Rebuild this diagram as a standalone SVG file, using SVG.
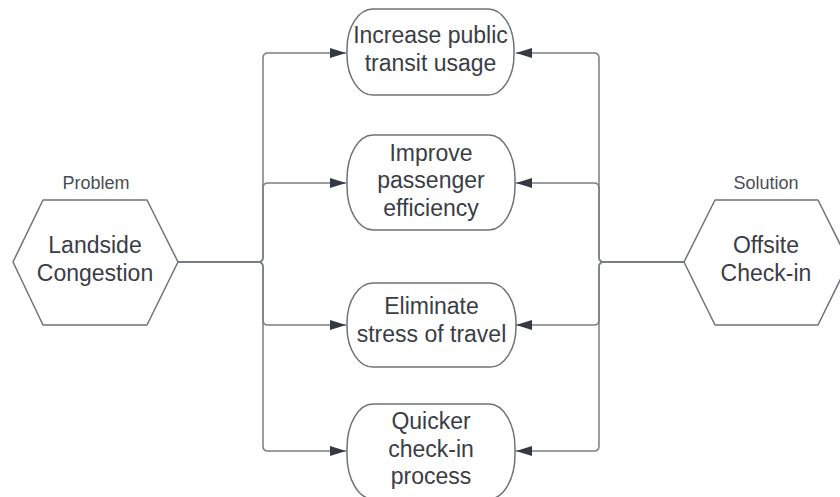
<svg xmlns="http://www.w3.org/2000/svg" width="840" height="497" viewBox="0 0 840 497">
  <style>
    .bg { fill: #ffffff; }
    .hex, .term { fill: #ffffff; stroke: #6e727a; stroke-width: 1.5; stroke-linejoin: round; }
    .link { fill: none; stroke: #7a7e86; stroke-width: 1.5; }
    .main { font-family: "Liberation Sans", Arial, sans-serif; font-size: 23px; fill: #3a3d45; text-anchor: middle; }
    .tag { font-family: "Liberation Sans", Arial, sans-serif; font-size: 18px; fill: #4a4d55; text-anchor: middle; }
  </style>
  <defs>
    <marker id="arrow" viewBox="0 0 16 10" refX="16" refY="5" markerWidth="16" markerHeight="10" markerUnits="userSpaceOnUse" orient="auto">
      <path d="M0,0 L16,5 L0,10 Z" fill="#333842"/>
    </marker>
  </defs>
  <rect class="bg" x="0" y="0" width="840" height="497"/>

  <!-- connectors: problem bus on the left, solution bus on the right -->
  <g id="connectors">
    <path class="link" marker-end="url(#arrow)" d="M178,262 H258 Q263,262 263,257 V58 Q263,53 268,53 H346"/>
    <path class="link" marker-end="url(#arrow)" d="M178,262 H258 Q263,262 263,257 V188 Q263,183 268,183 H346"/>
    <path class="link" marker-end="url(#arrow)" d="M178,262 H258 Q263,262 263,267 V320 Q263,325 268,325 H346"/>
    <path class="link" marker-end="url(#arrow)" d="M178,262 H258 Q263,262 263,267 V446 Q263,451 268,451 H346"/>
    <path class="link" marker-end="url(#arrow)" d="M684,262 H604 Q599,262 599,257 V58 Q599,53 594,53 H516"/>
    <path class="link" marker-end="url(#arrow)" d="M684,262 H604 Q599,262 599,257 V188 Q599,183 594,183 H516"/>
    <path class="link" marker-end="url(#arrow)" d="M684,262 H604 Q599,262 599,267 V320 Q599,325 594,325 H516"/>
    <path class="link" marker-end="url(#arrow)" d="M684,262 H604 Q599,262 599,267 V446 Q599,451 594,451 H516"/>
  </g>

  <g id="problem">
    <text class="tag" x="96" y="189">Problem</text>
    <polygon class="hex" points="13,262 43,200 147,200 178,262 147,325 43,325"/>
    <text class="main" x="95" y="252.5">Landside</text>
    <text class="main" x="95" y="280.5">Congestion</text>
  </g>

  <g id="solution">
    <text class="tag" x="766" y="189">Solution</text>
    <polygon class="hex" points="684,262 715,200 818,200 849,262 818,325 715,325"/>
    <text class="main" x="766" y="252.5">Offsite</text>
    <text class="main" x="766" y="280.5">Check-in</text>
  </g>

  <g id="goal-transit">
    <rect class="term" x="347" y="9" width="167" height="86" rx="26" ry="40"/>
    <text class="main" x="430.5" y="43.3">Increase public</text>
    <text class="main" x="430.5" y="70.8">transit usage</text>
  </g>

  <g id="goal-efficiency">
    <rect class="term" x="347" y="135" width="168" height="95" rx="26" ry="44"/>
    <text class="main" x="431" y="160.7">Improve</text>
    <text class="main" x="431" y="188.3">passenger</text>
    <text class="main" x="431" y="215.8">efficiency</text>
  </g>

  <g id="goal-stress">
    <rect class="term" x="347" y="283" width="169" height="84" rx="26" ry="40"/>
    <text class="main" x="431.5" y="314">Eliminate</text>
    <text class="main" x="431.5" y="341.5">stress of travel</text>
  </g>

  <g id="goal-checkin">
    <rect class="term" x="347" y="404" width="168" height="95" rx="26" ry="44"/>
    <text class="main" x="431" y="429">Quicker</text>
    <text class="main" x="431" y="456.5">check-in</text>
    <text class="main" x="431" y="484">process</text>
  </g>
</svg>
